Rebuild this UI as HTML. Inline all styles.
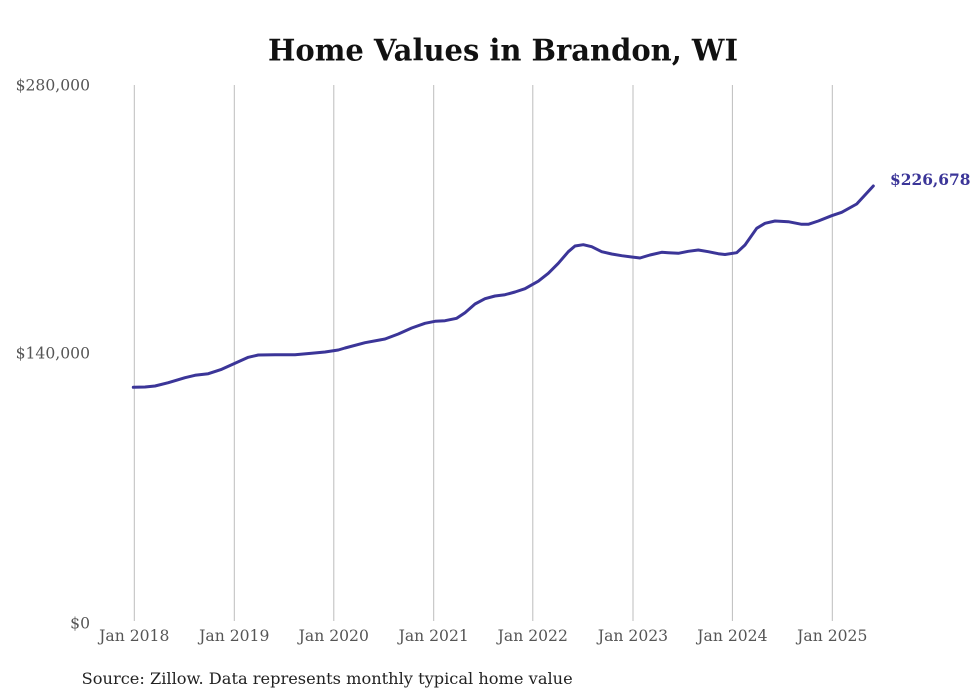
<!DOCTYPE html>
<html>
<head>
<meta charset="utf-8">
<style>
  html, body { margin: 0; padding: 0; background: #ffffff; }
  body { width: 980px; height: 699px; overflow: hidden; }
  svg { display: block; }
  .ax { font-family: "DejaVu Serif", "Liberation Serif", serif; font-size: 15.6px; fill: #555555; }
</style>
</head>
<body>
<svg width="980" height="699" viewBox="0 0 980 699" xmlns="http://www.w3.org/2000/svg">
  <rect x="0" y="0" width="980" height="699" fill="#ffffff"/>

  <!-- Title -->
  <text x="503" y="60.5" text-anchor="middle" font-family="'DejaVu Serif', 'Liberation Serif', serif" font-weight="bold" font-size="30" fill="#111111" textLength="470" lengthAdjust="spacingAndGlyphs">Home Values in Brandon, WI</text>

  <!-- Vertical gridlines -->
  <g stroke="#bdbdbd" stroke-width="1">
    <line x1="134.3" y1="85" x2="134.3" y2="621"/>
    <line x1="234.3" y1="85" x2="234.3" y2="621"/>
    <line x1="333.8" y1="85" x2="333.8" y2="621"/>
    <line x1="433.7" y1="85" x2="433.7" y2="621"/>
    <line x1="532.8" y1="85" x2="532.8" y2="621"/>
    <line x1="633" y1="85" x2="633" y2="621"/>
    <line x1="732.4" y1="85" x2="732.4" y2="621"/>
    <line x1="832.3" y1="85" x2="832.3" y2="621"/>
  </g>

  <!-- Y axis labels -->
  <text class="ax" x="90" y="90.5" text-anchor="end">$280,000</text>
  <text class="ax" x="90" y="358.5" text-anchor="end">$140,000</text>
  <text class="ax" x="90" y="628.5" text-anchor="end">$0</text>

  <!-- X axis labels -->
  <text class="ax" x="134.3" y="641" text-anchor="middle">Jan 2018</text>
  <text class="ax" x="234.3" y="641" text-anchor="middle">Jan 2019</text>
  <text class="ax" x="333.8" y="641" text-anchor="middle">Jan 2020</text>
  <text class="ax" x="433.7" y="641" text-anchor="middle">Jan 2021</text>
  <text class="ax" x="532.8" y="641" text-anchor="middle">Jan 2022</text>
  <text class="ax" x="633" y="641" text-anchor="middle">Jan 2023</text>
  <text class="ax" x="732.4" y="641" text-anchor="middle">Jan 2024</text>
  <text class="ax" x="832.3" y="641" text-anchor="middle">Jan 2025</text>

  <!-- Data line -->
  <polyline fill="none" stroke="#3b3598" stroke-width="3" stroke-linejoin="round" stroke-linecap="round"
    points="133.3,387.3 145,387 155,386 168.3,382.7 185,377.7 195,375.3 208.3,373.7 221.7,369.3 235,363.3 248.3,357.3 258.3,355 275,354.7 295,354.7 311.7,353.3 325,352 338.3,350 345,348 365,342.7 385,339 398.3,334 411.7,328 425,323.3 435,321.3 445,320.7 456.7,318.3 465,312.7 475,304 485,298.7 495,296 505,294.7 515,292 525,288.7 538.3,281.2 548.3,273.3 558.3,263.3 568.3,251.7 575,246 583.3,244.7 591.7,246.7 601.7,251.7 611.7,254 621.7,255.7 631.7,257 640,258 650,255 661.7,252.3 668.3,252.7 678.3,253.3 688.3,251.3 698.3,250 708.3,251.7 718.3,253.7 725,254.5 736.7,252.7 745,245 756.7,228.3 765,223.3 775,221 788.3,221.7 801.7,224.3 808.3,224.3 818.3,221 831.7,215.7 841.7,212.3 856.7,204 865,195 873.3,186"/>

  <!-- End label -->
  <text x="890" y="185" font-family="'DejaVu Serif', 'Liberation Serif', serif" font-weight="bold" font-size="15.5" fill="#3b3598" textLength="80.5" lengthAdjust="spacingAndGlyphs">$226,678</text>

  <!-- Source -->
  <text x="81.7" y="684" font-family="'DejaVu Serif', 'Liberation Serif', serif" font-size="15.6" fill="#222222" textLength="491" lengthAdjust="spacingAndGlyphs">Source: Zillow. Data represents monthly typical home value</text>
</svg>
</body>
</html>
